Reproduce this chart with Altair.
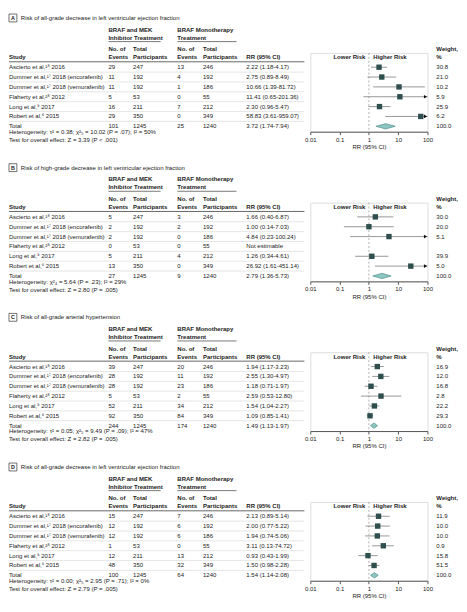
import altair as alt
import pandas as pd

FONT = "Liberation Sans, Arial, sans-serif"
FS = 6.1

# ---------------- data ----------------
studies = [
    "Ascierto et al,¹⁸ 2016",
    "Dummer et al,¹⁷ 2018 (encorafenib)",
    "Dummer et al,¹⁷ 2018 (vemurafenib)",
    "Flaherty et al,²⁸ 2012",
    "Long et al,⁹ 2017",
    "Robert et al,⁶ 2015",
]
participants_combo = [247, 192, 192, 53, 211, 350]
participants_mono = [246, 192, 186, 55, 212, 349]

# Panel A
a_title = "Risk of all-grade decrease in left ventricular ejection fraction"
a_events_combo = [29, 11, 11, 5, 16, 29]
a_events_mono = [13, 4, 1, 0, 7, 0]
a_totals = [101, 1245, 25, 1240]
a_rr_labels = ["2.22 (1.18-4.17)", "2.75 (0.89-8.49)", "10.66 (1.39-81.72)", "11.41 (0.65-201.36)",
               "2.30 (0.96-5.47)", "58.83 (3.61-959.07)", "3.72 (1.74-7.94)"]
a_rr = [2.22, 2.75, 10.66, 11.41, 2.30, 58.83]
a_lo = [1.18, 0.89, 1.39, 0.65, 0.96, 3.61]
a_hi = [4.17, 8.49, 81.72, 201.36, 5.47, 959.07]
a_pooled = [3.72, 1.74, 7.94]
a_weights = ["30.8", "21.0", "10.2", "5.9", "25.9", "6.2", "100.0"]
a_het = "Heterogeneity: τ² = 0.38; χ²₅ = 10.02 (P = .07); I² = 50%"
a_test = "Test for overall effect: Z = 3.39 (P < .001)"

# Panel B
b_title = "Risk of high-grade decrease in left ventricular ejection fraction"
b_events_combo = [5, 2, 2, 0, 5, 13]
b_events_mono = [3, 2, 0, 0, 4, 0]
b_totals = [27, 1245, 9, 1240]
b_rr_labels = ["1.66 (0.40-6.87)", "1.00 (0.14-7.03)", "4.84 (0.23-100.24)", "Not estimable",
               "1.26 (0.34-4.61)", "26.92 (1.61-451.14)", "2.79 (1.36-5.73)"]
b_rr = [1.66, 1.00, 4.84, None, 1.26, 26.92]
b_lo = [0.40, 0.14, 0.23, None, 0.34, 1.61]
b_hi = [6.87, 7.03, 100.24, None, 4.61, 451.14]
b_pooled = [2.79, 1.36, 5.73]
b_weights = ["30.0", "20.0", "5.1", "", "39.9", "5.0", "100.0"]
b_het = "Heterogeneity: χ²₄ = 5.64 (P = .23); I² = 29%"
b_test = "Test for overall effect: Z = 2.80 (P = .005)"

# Panel C
c_title = "Risk of all-grade arterial hypertension"
c_events_combo = [39, 28, 28, 5, 52, 92]
c_events_mono = [20, 11, 23, 2, 34, 84]
c_totals = [244, 1245, 174, 1240]
c_rr_labels = ["1.94 (1.17-3.23)", "2.55 (1.30-4.97)", "1.18 (0.71-1.97)", "2.59 (0.53-12.80)",
               "1.54 (1.04-2.27)", "1.09 (0.85-1.41)", "1.49 (1.13-1.97)"]
c_rr = [1.94, 2.55, 1.18, 2.59, 1.54, 1.09]
c_lo = [1.17, 1.30, 0.71, 0.53, 1.04, 0.85]
c_hi = [3.23, 4.97, 1.97, 12.80, 2.27, 1.41]
c_pooled = [1.49, 1.13, 1.97]
c_weights = ["16.9", "12.0", "16.8", "2.8", "22.2", "29.3", "100.0"]
c_het = "Heterogeneity: τ² = 0.05; χ²₅ = 9.49 (P = .09); I² = 47%"
c_test = "Test for overall effect: Z = 2.82 (P = .005)"

# Panel D
d_title = "Risk of all-grade decrease in left ventricular ejection fraction"
d_events_combo = [15, 12, 12, 1, 12, 48]
d_events_mono = [7, 6, 6, 0, 13, 32]
d_totals = [100, 1245, 64, 1240]
d_rr_labels = ["2.13 (0.89-5.14)", "2.00 (0.77-5.22)", "1.94 (0.74-5.06)", "3.11 (0.13-74.72)",
               "0.93 (0.43-1.99)", "1.50 (0.98-2.28)", "1.54 (1.14-2.08)"]
d_rr = [2.13, 2.00, 1.94, 3.11, 0.93, 1.50]
d_lo = [0.89, 0.77, 0.74, 1.27, 0.43, 0.98]   # interval as drawn in the figure
d_hi = [5.14, 5.22, 5.06, 7.1, 1.99, 2.28]
d_pooled = [1.54, 1.14, 2.08]
d_weights = ["11.9", "10.0", "10.0", "0.9", "15.8", "51.5", "100.0"]
d_het = "Heterogeneity: τ² = 0.00; χ²₅ = 2.95 (P = .71); I² = 0%"
d_test = "Test for overall effect: Z = 2.79 (P = .005)"

# ---------------- layout / style ----------------
W, H = 119, 80
INK = "#222222"
SQ = "#2f4f4f"
DIA_FILL = "#8cc6c1"
DIA_STROKE = "#4d8f8a"

X_STUDY, X_EVC, X_TOTC, X_EVM, X_TOTM, X_RR, X_W = -306, -205, -180, -135, -109, -65, 128

yscale = alt.Scale(domain=[-1.45, 6.55], reverse=True, nice=False, zero=False)
xscale = alt.Scale(type="log", domain=[0.01, 100], nice=False)
xaxis = alt.Axis(values=[0.01, 0.1, 1, 10, 100], format="~g", title="RR (95% CI)",
                 grid=False, labelFlush=False, labelOverlap=False, tickSize=3,
                 domainColor="#555", tickColor="#555", labelColor=INK, titleColor=INK,
                 labelFont=FONT, titleFont=FONT, labelFontSize=FS, titleFontSize=FS,
                 titleFontWeight="normal", labelPadding=1.5, titlePadding=1.5)


def Y(field="row"):
    return alt.Y(f"{field}:Q", scale=yscale, axis=None)


def X(field):
    return alt.X(f"{field}:Q", scale=xscale, axis=xaxis)


def txt(df, x, field, bold=False, align="left", color=INK):
    return alt.Chart(df).mark_text(align=align, baseline="middle", font=FONT, fontSize=FS,
                                   fontWeight="bold" if bold else "normal", color=color).encode(
        x=alt.value(x), y=Y(), text=f"{field}:N")


def htxt(text, x, y, bold=True, align="left", size=FS):
    return alt.Chart(pd.DataFrame({"t": [text]})).mark_text(
        align=align, baseline="middle", font=FONT, fontSize=size,
        fontWeight="bold" if bold else "normal", color=INK).encode(
        x=alt.value(x), y=alt.value(y), text="t:N")


def hrule(x1, x2, y, color, width):
    return alt.Chart(pd.DataFrame({"a": [0]})).mark_rule(color=color, strokeWidth=width).encode(
        x=alt.value(x1), x2=alt.value(x2), y=alt.value(y))


def panel(letter, title, ev_c, ev_m, totals, rr_labels, rr, lo, hi, pooled, weights, het, test):
    n = len(studies)
    tab = pd.DataFrame({
        "row": list(range(n + 1)),
        "study": studies + ["Total"],
        "ev_c": [str(v) for v in ev_c] + [str(totals[0])],
        "tot_c": [str(v) for v in participants_combo] + [str(totals[1])],
        "ev_m": [str(v) for v in ev_m] + [str(totals[2])],
        "tot_m": [str(v) for v in participants_mono] + [str(totals[3])],
        "rr_lab": rr_labels,
        "weight": weights,
    })
    est = pd.DataFrame({"row": list(range(n)), "rr": rr, "lo": lo, "hi": hi}).dropna()
    est["lo_c"] = est["lo"].clip(lower=0.01)
    est["hi_c"] = est["hi"].clip(upper=100)
    arrows = est[est["hi"] > 100].copy()
    arrows["tip"] = 100.0
    dia = pd.DataFrame({"x": [pooled[1], pooled[0], pooled[2]],
                        "y": [n, n - 0.27, n], "y2": [n, n + 0.27, n]})
    seps = pd.DataFrame({"row": [i + 0.5 for i in range(n)]})
    foot = pd.DataFrame({"t": [het, test], "row": [n + 0.58, n + 1.4]})
    ref = pd.DataFrame({"x": [1.0]})

    layers = [
        # letter box + title
        alt.Chart(pd.DataFrame({"a": [0]})).mark_rect(fill="white", stroke="#333", strokeWidth=0.7).encode(
            x=alt.value(X_STUDY), x2=alt.value(X_STUDY + 8), y=alt.value(-39.5), y2=alt.value(-31.5)),
        htxt(letter, X_STUDY + 4, -35.3, bold=True, align="center", size=5.5),
        htxt(title, X_STUDY + 12, -35.5, bold=False),
        # group headers
        htxt("BRAF and MEK", X_EVC, -23.5), htxt("Inhibitor Treatment", X_EVC, -15.5),
        htxt("BRAF Monotherapy", X_EVM, -23.5), htxt("Treatment", X_EVM, -15.5),
        hrule(X_EVC, X_EVC + 53, -11.5, "#555", 0.8),
        hrule(X_EVM, X_EVM + 60, -11.5, "#555", 0.8),
        # column headers
        htxt("Study", X_STUDY, 4.5),
        htxt("No. of", X_EVC, -3.7), htxt("Events", X_EVC, 4.5),
        htxt("Total", X_TOTC, -3.7), htxt("Participants", X_TOTC, 4.5),
        htxt("No. of", X_EVM, -3.7), htxt("Events", X_EVM, 4.5),
        htxt("Total", X_TOTM, -3.7), htxt("Participants", X_TOTM, 4.5),
        htxt("RR (95% CI)", X_RR, 4.5),
        htxt("Lower Risk", 56, 4.5, align="right"), htxt("Higher Risk", 64, 4.5),
        htxt("Weight,", X_W, -3.7), htxt("%", X_W, 4.5),
        hrule(X_STUDY, -6, 9, "#555", 0.9),
        # row separators
        alt.Chart(seps).mark_rule(color="#d4d4d4", strokeWidth=0.6).encode(
            x=alt.value(X_STUDY), x2=alt.value(-6), y=Y()),
        # table body
        txt(tab, X_STUDY, "study"), txt(tab, X_EVC, "ev_c"), txt(tab, X_TOTC, "tot_c"),
        txt(tab, X_EVM, "ev_m"), txt(tab, X_TOTM, "tot_m"), txt(tab, X_RR, "rr_lab"),
        txt(tab, X_W, "weight"),
        txt(foot, X_STUDY, "t"),
        # forest
        alt.Chart(ref).mark_rule(color="#9a9a9a", strokeDash=[2, 2], strokeWidth=0.8).encode(
            x=X("x"), y=alt.value(0), y2=alt.value(H)),
        alt.Chart(est).mark_rule(color="#8a8a8a", strokeWidth=0.9).encode(
            x=X("lo_c"), x2="hi_c:Q", y=Y()),
        alt.Chart(arrows).mark_point(shape="triangle-right", filled=True, color="#111", size=14,
                                     opacity=1, xOffset=-2).encode(x=X("tip"), y=Y()),
        alt.Chart(est).mark_square(color=SQ, size=30, opacity=1).encode(x=X("rr"), y=Y()),
        alt.Chart(dia).mark_area(fill=DIA_FILL, stroke=DIA_STROKE, strokeWidth=0.7, orient="vertical",
                                 opacity=1).encode(
            x=X("x"), y=alt.Y("y:Q", scale=yscale, axis=None), y2="y2:Q"),
    ]
    return alt.layer(*layers).properties(width=W, height=H)


panels = [
    panel("A", a_title, a_events_combo, a_events_mono, a_totals, a_rr_labels, a_rr, a_lo, a_hi,
          a_pooled, a_weights, a_het, a_test),
    panel("B", b_title, b_events_combo, b_events_mono, b_totals, b_rr_labels, b_rr, b_lo, b_hi,
          b_pooled, b_weights, b_het, b_test),
    panel("C", c_title, c_events_combo, c_events_mono, c_totals, c_rr_labels, c_rr, c_lo, c_hi,
          c_pooled, c_weights, c_het, c_test),
    panel("D", d_title, d_events_combo, d_events_mono, d_totals, d_rr_labels, d_rr, d_lo, d_hi,
          d_pooled, d_weights, d_het, d_test),
]

chart = alt.vconcat(*panels, spacing=72, bounds="flush").properties(
    padding={"left": 0, "right": 0, "top": 0, "bottom": 0}
).configure_view(stroke=None).configure(background="white")

chart.save("out.html", embed_options={"renderer": "svg", "actions": False})
